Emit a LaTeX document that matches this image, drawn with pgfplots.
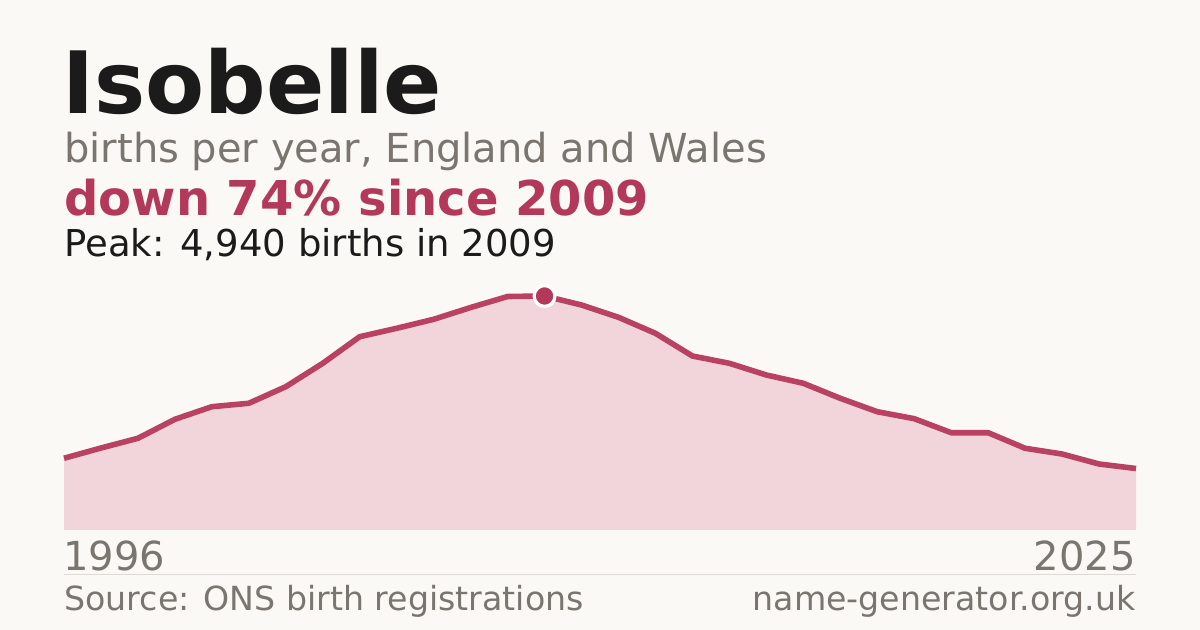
\documentclass[border=0pt]{standalone}
\usepackage{pgfplots}
\usepackage{pgfplotstable}
\usepackage{fontspec}
\setmainfont{DejaVu Sans}
\pgfplotsset{compat=1.18}

\definecolor{bg}{HTML}{FAF9F5}
\definecolor{ink}{HTML}{1B1B1B}
\definecolor{muted}{HTML}{7A756E}
\definecolor{accent}{HTML}{B3395A}
\definecolor{linec}{HTML}{B94262}
\definecolor{areafill}{HTML}{F1D5DA}
\definecolor{rule}{HTML}{DDDAD4}

% births per year, Isobelle
\pgfplotstableread{
year births
1996 1514
1997 1731
1998 1936
1999 2337
2000 2603
2001 2675
2002 3025
2003 3519
2004 4081
2005 4258
2006 4448
2007 4697
2008 4929
2009 4940
2010 4750
2011 4490
2012 4152
2013 3673
2014 3519
2015 3272
2016 3097
2017 2780
2018 2497
2019 2350
2020 2054
2021 2054
2022 1725
2023 1604
2024 1393
2025 1298
}\births

\begin{document}
\begin{tikzpicture}
  % 1 px of the 1200x630 canvas = 0.5bp
  \fill[bg] (0,0) rectangle (600bp,315bp);
  \useasboundingbox (0,0) rectangle (600bp,315bp);

  \begin{scope}[x=0.5bp, y=0.5bp]
  \node[anchor=base west, inner sep=0, text=ink] at (62,517)
    {\fontsize{43bp}{50bp}\selectfont\bfseries Isobelle};
  \node[anchor=base west, inner sep=0, text=muted] at (64,468)
    {\fontsize{20bp}{24bp}\selectfont births per year, England and Wales};
  \node[anchor=base west, inner sep=0, text=accent] at (64,415)
    {\fontsize{24bp}{28bp}\selectfont\bfseries down 74\% since 2009};
  \node[anchor=base west, inner sep=0, text=ink] at (64,374)
    {\fontsize{18.5bp}{22bp}\selectfont Peak: 4,940 births in 2009};

  \node[anchor=base west, inner sep=0, text=muted] at (63,60)
    {\fontsize{20bp}{24bp}\selectfont 1996};
  \node[anchor=base east, inner sep=0, text=muted] at (1136,60)
    {\fontsize{20bp}{24bp}\selectfont 2025};
  \draw[rule, line width=0.5bp] (64,56) -- (1136,56);
  \node[anchor=base west, inner sep=0, text=muted] at (64,20)
    {\fontsize{16.6bp}{19bp}\selectfont Source: ONS birth registrations};
  \node[anchor=base east, inner sep=0, text=muted] at (1136,20)
    {\fontsize{16.6bp}{19bp}\selectfont name-generator.org.uk};
  \end{scope}

  \begin{axis}[
    at={(32bp,50bp)}, anchor=south west,
    width=536bp, height=125bp, scale only axis,
    hide axis, clip=false,
    xmin=1996, xmax=2025, ymin=0, ymax=5278,
  ]
    \addplot[fill=areafill, draw=none] table[x=year, y=births] {\births} \closedcycle;
    \addplot[linec, line width=2.8bp, line join=round] table[x=year, y=births] {\births};
    \addplot[only marks, mark=*, mark size=5.2bp,
      mark options={fill=accent, draw=white, line width=1.6bp}]
      coordinates {(2009,4940)};
  \end{axis}
\end{tikzpicture}
\end{document}
